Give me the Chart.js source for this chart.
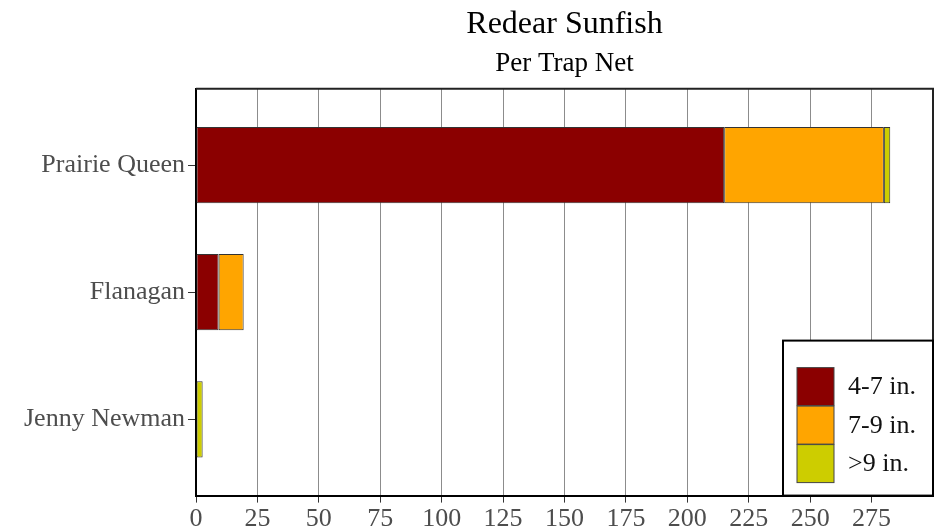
<!DOCTYPE html>
<html lang="en">
<head>
<meta charset="UTF-8">
<title>Redear Sunfish</title>
<script src="https://cdn.jsdelivr.net/npm/chart.js"></script>
<style>
  html, body { margin: 0; padding: 0; background: #fff; }
  #wrap { width: 940px; height: 532px; position: relative; }
</style>
</head>
<body>
<div id="wrap"><canvas id="grafico"></canvas></div>
<script>
// lakes, top to bottom
const lagos = ['Prairie Queen', 'Flanagan', 'Jenny Newman'];
// fish per trap net by length group
const de4a7 = [215, 9.2, 0];
const de7a9 = [65, 10.2, 0];
const acima9 = [2.6, 0, 2.7];
const marcasX = [0, 25, 50, 75, 100, 125, 150, 175, 200, 225, 250, 275];

const fonte = 'Liberation Serif, Times New Roman, serif';

function pontos(valores) {
    return valores.map((v, i) => ({ x: v, y: i }));
}

// legend + border drawn over the panel
const moldura = {
    id: 'moldura',
    afterDraw(chart) {
        const ctx = chart.ctx;
        const a = chart.chartArea;
        ctx.save();
        ctx.strokeStyle = '#222';
        ctx.lineWidth = 2;
        ctx.beginPath();
        ctx.moveTo(a.left, a.top);
        ctx.lineTo(a.right, a.top);
        ctx.lineTo(a.right, a.bottom);
        ctx.stroke();

        // legenda
        const larg = 150, alt = 155;
        const x0 = a.right - larg, y0 = a.bottom - alt;
        ctx.fillStyle = '#fff';
        ctx.fillRect(x0, y0, larg, alt);
        ctx.strokeStyle = '#000';
        ctx.lineWidth = 2;
        ctx.strokeRect(x0, y0, larg, alt);
        ctx.font = '26px ' + fonte;
        ctx.textBaseline = 'middle';
        chart.data.datasets.forEach((ds, i) => {
            const yy = y0 + 27 + i * 38.5;
            ctx.fillStyle = ds.backgroundColor;
            ctx.fillRect(x0 + 14, yy, 37, 38);
            ctx.strokeStyle = '#444';
            ctx.lineWidth = 1;
            ctx.strokeRect(x0 + 14, yy, 37, 38);
            ctx.fillStyle = '#111';
            ctx.fillText(ds.label, x0 + 65, yy + 20);
        });
        ctx.restore();
    }
};

new Chart(document.getElementById('grafico'), {
    type: 'bar',
    data: {
        datasets: [
            { label: '4-7 in.', data: pontos(de4a7), backgroundColor: '#8B0000' },
            { label: '7-9 in.', data: pontos(de7a9), backgroundColor: '#FFA500' },
            { label: '>9 in.', data: pontos(acima9), backgroundColor: '#CDCD00' }
        ]
    },
    options: {
        indexAxis: 'y',
        responsive: true,
        maintainAspectRatio: false,
        animation: false,
        layout: { padding: { left: 21, right: 7, top: 3, bottom: -4 } },
        datasets: {
            bar: {
                categoryPercentage: 0.6,
                barPercentage: 1,
                borderColor: '#333',
                borderWidth: 1,
                borderSkipped: false
            }
        },
        plugins: {
            legend: { display: false },
            tooltip: { enabled: false },
            title: {
                display: true,
                text: 'Redear Sunfish',
                color: '#000',
                fullSize: false,
                font: { family: fonte, size: 32, weight: 'normal' },
                padding: { top: 2, bottom: 4 }
            },
            subtitle: {
                display: true,
                text: 'Per Trap Net',
                color: '#000',
                fullSize: false,
                font: { family: fonte, size: 27, weight: 'normal' },
                padding: { top: 0, bottom: 9 }
            }
        },
        scales: {
            x: {
                stacked: true,
                min: 0,
                max: 300,
                afterBuildTicks: (axis) => {
                    axis.ticks = marcasX.map(v => ({ value: v }));
                },
                ticks: {
                    color: '#4d4d4d',
                    font: { family: fonte, size: 26, lineHeight: 0.9 },
                    padding: 5,
                    maxRotation: 0
                },
                grid: {
                    color: '#8c8c8c',
                    lineWidth: 1,
                    tickColor: '#333',
                    tickLength: 7
                },
                border: { color: '#000', width: 2 }
            },
            y: {
                type: 'linear',
                stacked: true,
                reverse: true,
                offset: false,
                min: -0.6,
                max: 2.6,
                afterBuildTicks: (axis) => {
                    axis.ticks = lagos.map((n, i) => ({ value: i }));
                },
                ticks: {
                    color: '#4d4d4d',
                    font: { family: fonte, size: 26 },
                    padding: 3,
                    callback: (v) => lagos[v]
                },
                grid: {
                    offset: false,
                    drawOnChartArea: false,
                    tickColor: '#333',
                    tickLength: 8
                },
                border: { color: '#000', width: 2 }
            }
        }
    },
    plugins: [moldura]
});
</script>
</body>
</html>
